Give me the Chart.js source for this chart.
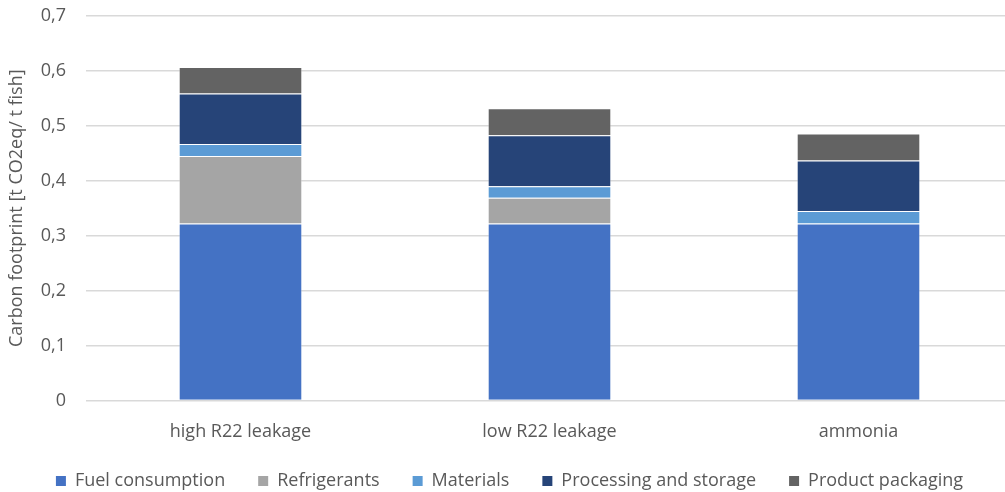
<!DOCTYPE html>
<html>
<head>
<meta charset="utf-8">
<script src="https://cdn.jsdelivr.net/npm/chart.js@4/dist/chart.umd.min.js"></script>
<style>
  html, body { margin: 0; padding: 0; background: #fff; overflow: hidden; }
  #wrap { width: 1020px; height: 492px; }
</style>
</head>
<body>
<div id="wrap"><canvas id="myChart"></canvas></div>
<script>
// scenarios on the x axis
const scenarios = ['high R22 leakage', 'low R22 leakage', 'ammonia'];

// footprint contributions, t CO2eq per t fish
const fuelConsumption = [0.322, 0.322, 0.322];
const refrigerants = [0.123, 0.047, 0];
const materials = [0.022, 0.021, 0.023];
const processingStorage = [0.092, 0.093, 0.092];
const productPackaging = [0.048, 0.049, 0.049];

const yTicks = [0, 0.1, 0.2, 0.3, 0.4, 0.5, 0.6, 0.7];

const textGrey = '#595959';
const fontName = "'Open Sans', sans-serif";

function makeSet(label, data, color) {
  return {
    label: label,
    data: data,
    backgroundColor: color,
    borderColor: 'rgba(255, 255, 255, 0.3)',
    borderWidth: 1,
    categoryPercentage: 1,
    barPercentage: 0.4
  };
}

const ctx = document.getElementById('myChart');

const footprintChart = new Chart(ctx, {
  type: 'bar',
  data: {
    labels: scenarios,
    datasets: [
      makeSet('Fuel consumption', fuelConsumption, '#4472C4'),
      makeSet('Refrigerants', refrigerants, '#A5A5A5'),
      makeSet('Materials', materials, '#5B9BD5'),
      makeSet('Processing and storage', processingStorage, '#264478'),
      makeSet('Product packaging', productPackaging, '#636363')
    ]
  },
  options: {
    responsive: true,
    maintainAspectRatio: false,
    animation: false,
    layout: {
      padding: { top: 4, right: 7, left: 6, bottom: -8 }
    },
    plugins: {
      tooltip: { enabled: false },
      legend: {
        position: 'bottom',
        labels: {
          boxWidth: 10,
          boxHeight: 10,
          padding: 33,
          color: textGrey,
          font: { family: fontName, size: 18 },
          // legend squares without the white edge
          generateLabels: (chart) => {
            const items = Chart.defaults.plugins.legend.labels.generateLabels(chart);
            items.forEach(it => { it.lineWidth = 0; });
            return items;
          }
        }
      }
    },
    scales: {
      x: {
        stacked: true,
        grid: { display: false },
        border: { display: false },
        // squeeze the axis box so the plot reaches further down,
        // and let the labels draw outside it
        afterFit: (axis) => {
          axis.height -= 17;
          axis._computeLabelArea = () => undefined;
        },
        ticks: {
          color: textGrey,
          padding: 13,
          font: { family: fontName, size: 18 }
        }
      },
      y: {
        stacked: true,
        min: 0,
        max: 0.7,
        afterBuildTicks: (axis) => {
          axis.ticks = yTicks.map(v => ({ value: v }));
        },
        // fixed axis width, and keep the tick padding out of the top/bottom gap
        afterFit: (axis) => {
          axis.width = 80;
          axis.paddingTop = 16;
          axis.paddingBottom = 11;
        },
        grid: { color: '#D9D9D9', lineWidth: 1.5, drawTicks: false },
        border: { display: false },
        ticks: {
          color: textGrey,
          padding: 20,
          font: { family: fontName, size: 18 },
          callback: (v) => v === 0 ? '0' : v.toFixed(1).replace('.', ',')
        },
        title: {
          display: true,
          text: 'Carbon footprint [t CO2eq/ t fish]',
          color: textGrey,
          padding: { top: 0, bottom: 2 },
          font: { family: fontName, size: 18 }
        }
      }
    }
  }
});
</script>
</body>
</html>
